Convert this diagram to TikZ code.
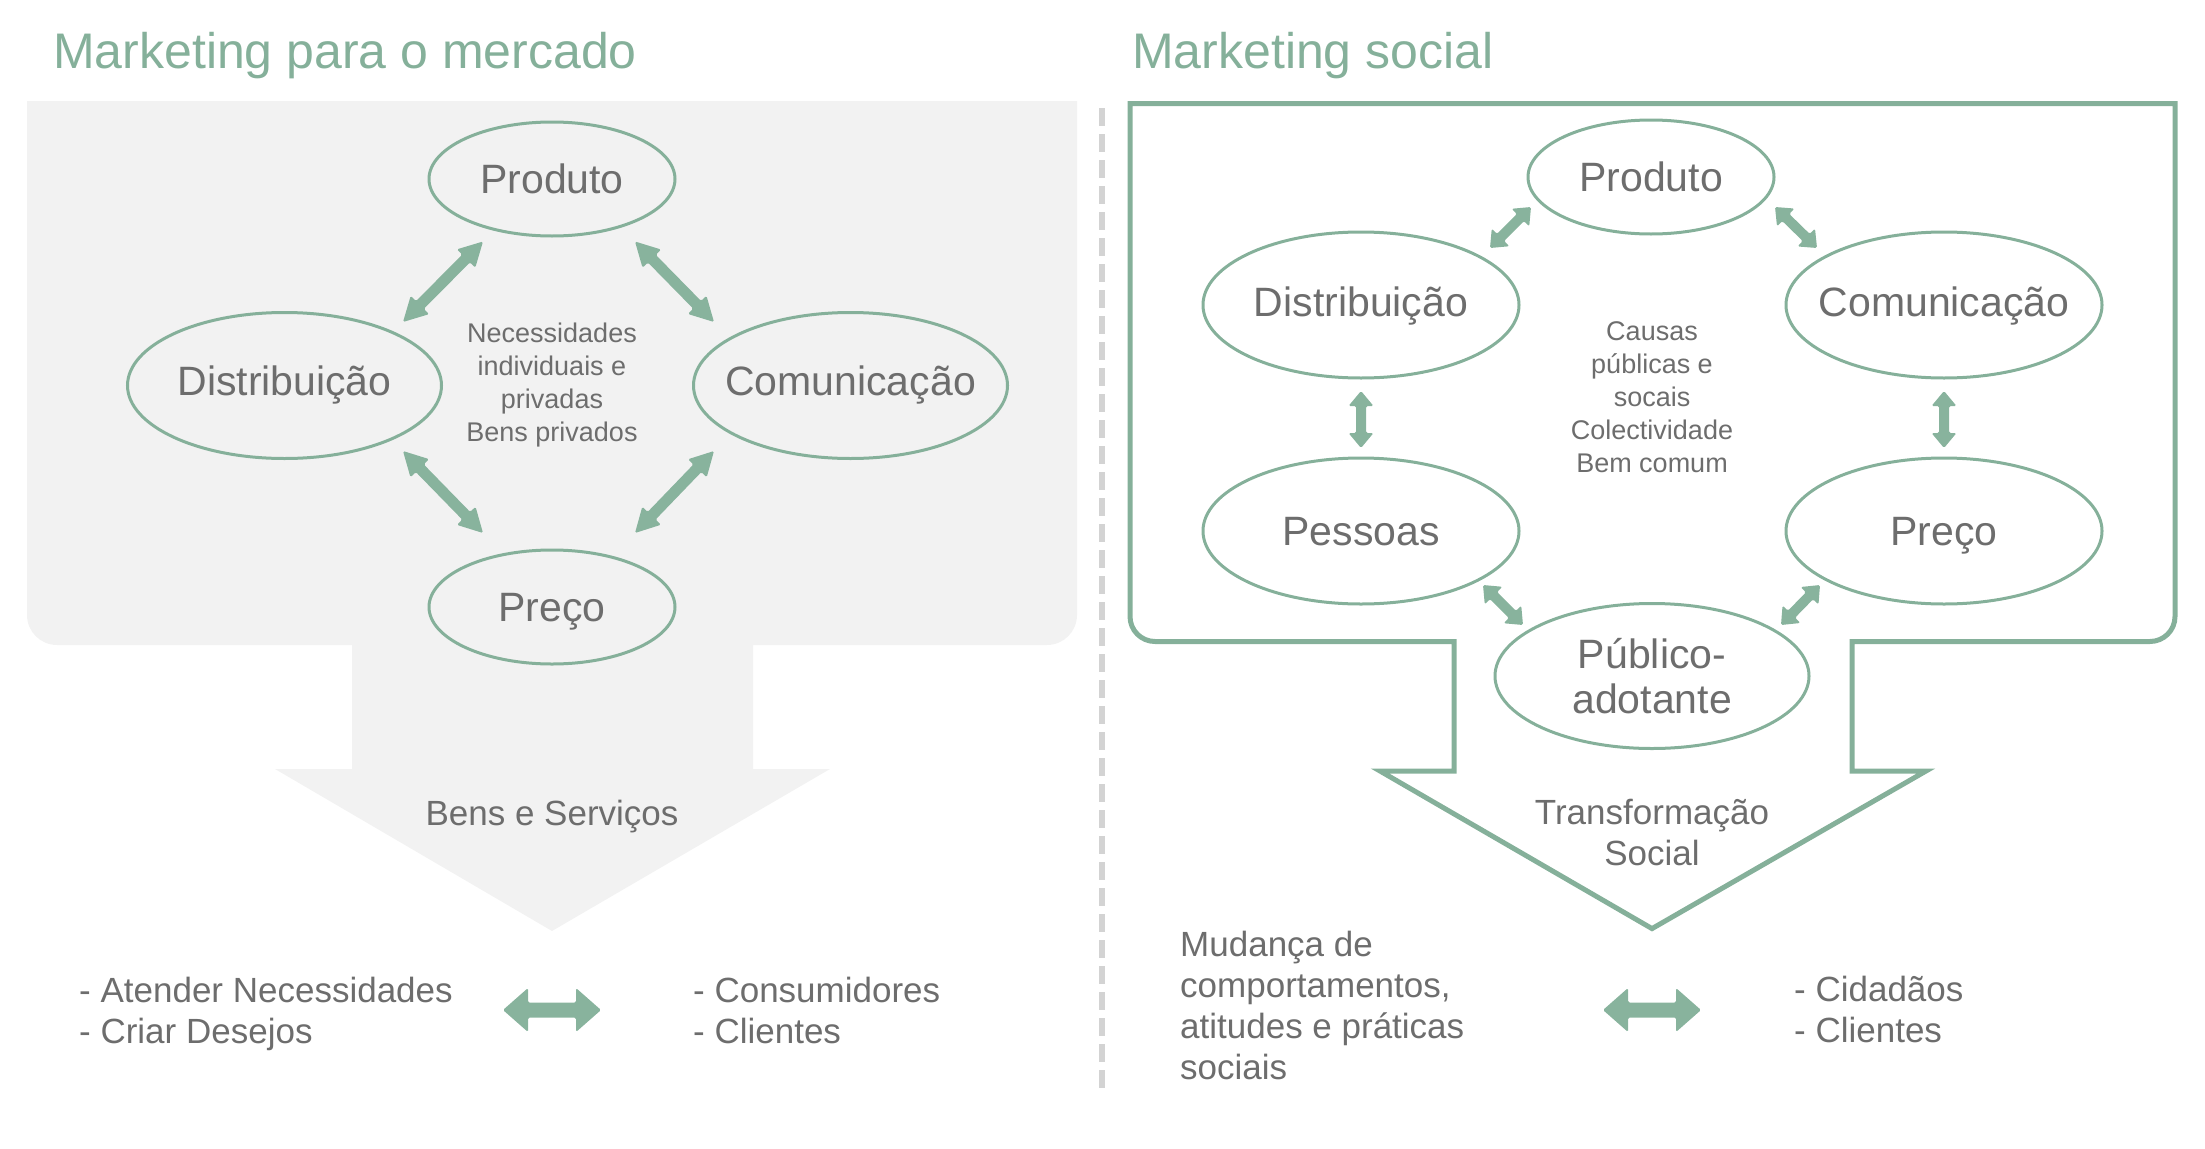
\documentclass[tikz,border=0pt]{standalone}
\usepackage{fontspec}
\setmainfont{Liberation Sans}
\usetikzlibrary{shapes.geometric,calc}
\definecolor{tgreen}{HTML}{85B09A}
\definecolor{afill}{HTML}{88B39D}
\definecolor{pgrey}{HTML}{F2F2F2}
\definecolor{tgrey}{HTML}{6D6D6D}
\definecolor{dgrey}{HTML}{D3D3D3}
\newcommand\fatarrow[5]{%
  \fill[afill, rounded corners=1.5pt] let \p1=(#1), \p2=(#2), \n1={atan2(\y2-\y1,\x2-\x1)} in
    (\p1) -- ($(\p1)+(\n1:#5)+(\n1+90:#4)$) -- ($(\p1)+(\n1:#5)+(\n1+90:#3)$)
    -- ($(\p2)+(\n1:-#5)+(\n1+90:#3)$) -- ($(\p2)+(\n1:-#5)+(\n1+90:#4)$)
    -- (\p2) -- ($(\p2)+(\n1:-#5)+(\n1-90:#4)$) -- ($(\p2)+(\n1:-#5)+(\n1-90:#3)$)
    -- ($(\p1)+(\n1:#5)+(\n1-90:#3)$) -- ($(\p1)+(\n1:#5)+(\n1-90:#4)$) -- cycle;}
\tikzset{
  ell/.style={ellipse, draw=tgreen, line width=3pt, inner xsep=-45pt, inner ysep=0pt, text=tgrey,
    font=\fontsize{41}{49}\selectfont, text height=29.5pt, text depth=0pt},
  ellup/.style={text depth=#1},
  title/.style={anchor=base west, inner sep=0pt, text=tgreen, font=\fontsize{50}{60}\selectfont},
  midtxt/.style={align=center, inner sep=0pt, text=tgrey, font=\fontsize{27}{33}\selectfont},
  bigtxt/.style={inner sep=0pt, text=tgrey, font=\fontsize{35}{41}\selectfont},
}
\begin{document}
\begin{tikzpicture}[x=1pt,y=-1pt]
\useasboundingbox (0,0) rectangle (2205,1148);
% titles
\node[title] (t1) at (53,69) {Marketing para o mercado};
\node[title] (t2) at (1132,69) {Marketing social};
% left panel
\fill[pgrey] (27,101) -- (1077,101) -- (1077,615) .. controls (1077,631.6) and (1063.6,645) .. (1047,645)
  -- (753,645) -- (753,769) -- (830,769) -- (552,931) -- (275,769) -- (352,769) -- (352,645)
  -- (57,645) .. controls (40.4,645) and (27,631.6) .. (27,615) -- cycle;
% divider
\draw[dgrey, line width=5.5pt, dash pattern=on 18pt off 8pt] (1102,108) -- (1102,1088);
% right frame
\draw[tgreen, line width=5pt] (1130,103.5) -- (2175,103.5) -- (2175,616.5)
  .. controls (2175,630.3) and (2163.8,641.5) .. (2150,641.5) -- (1852,641.5) -- (1852,771)
  -- (1926,771) -- (1652,928.6) -- (1380,771) -- (1454,771) -- (1454,641.5) -- (1155,641.5)
  .. controls (1141.2,641.5) and (1130,630.3) .. (1130,616.5) -- cycle;
% left ellipses
\node[ell, minimum width=246pt, minimum height=114pt] (lprod) at (552,179) {Produto};
\node[ell, ellup=9pt, minimum width=314pt, minimum height=146pt] (ldist) at (284.5,385.5) {Distribuição};
\node[ell, ellup=9pt, minimum width=314pt, minimum height=146pt] (lcom) at (850.5,385.5) {Comunicação};
\node[ell, minimum width=246pt, minimum height=114pt] (lpre) at (552,607) {Preço};
\node[midtxt] (lmid) at (552,385.5) {Necessidades\\individuais e\\privadas\\Bens privados};
% right ellipses
\node[ell, minimum width=246pt, minimum height=114pt] (rprod) at (1651,177) {Produto};
\node[ell, ellup=6pt, minimum width=316pt, minimum height=146pt] (rdist) at (1361,305) {Distribuição};
\node[ell, ellup=6pt, minimum width=316pt, minimum height=146pt] (rcom) at (1944,305) {Comunicação};
\node[ell, minimum width=316pt, minimum height=146pt] (rpes) at (1361,531) {Pessoas};
\node[ell, minimum width=316pt, minimum height=146pt] (rpre) at (1944,531) {Preço};
\node[ellipse, draw=tgreen, line width=3pt, inner sep=0pt, text=tgrey, minimum width=314pt,
  minimum height=145pt] (rpub) at (1652,676) {};
\node[align=center, inner sep=0pt, text=tgrey, font=\fontsize{41}{44.6}\selectfont]
  (rpubt) at (1652,676) {Público-\\adotante};
\node[midtxt] (rmid) at (1652,397) {Causas\\públicas e\\socais\\Colectividade\\Bem comum};
% arrow end points
\coordinate (a1) at (483,241.5); \coordinate (a2) at (403,322);
\coordinate (b1) at (635,241.5); \coordinate (b2) at (714,322);
\coordinate (c1) at (403,451);   \coordinate (c2) at (483,533);
\coordinate (d1) at (714,451);   \coordinate (d2) at (635,533);
\coordinate (e1) at (1531,207);  \coordinate (e2) at (1490,248);
\coordinate (f1) at (1775,207);  \coordinate (f2) at (1817,248);
\coordinate (g1) at (1361,391);  \coordinate (g2) at (1361,448);
\coordinate (h1) at (1944,391);  \coordinate (h2) at (1944,448);
\coordinate (i1) at (1483,585);  \coordinate (i2) at (1523,625);
\coordinate (j1) at (1820,585);  \coordinate (j2) at (1781,625);
\coordinate (k1) at (503,1010);  \coordinate (k2) at (601,1010);
\coordinate (l1) at (1603,1010); \coordinate (l2) at (1701,1010);
\fatarrow{a1}{a2}{5.5pt}{13pt}{24pt}
\fatarrow{b1}{b2}{5.5pt}{13pt}{24pt}
\fatarrow{c1}{c2}{5.5pt}{13pt}{24pt}
\fatarrow{d1}{d2}{5.5pt}{13pt}{24pt}
\fatarrow{e1}{e2}{5pt}{12.5pt}{15pt}
\fatarrow{f1}{f2}{5pt}{12.5pt}{15pt}
\fatarrow{g1}{g2}{5pt}{12.5pt}{15pt}
\fatarrow{h1}{h2}{5pt}{12.5pt}{15pt}
\fatarrow{i1}{i2}{5pt}{12.5pt}{15pt}
\fatarrow{j1}{j2}{5pt}{12.5pt}{15pt}
\fatarrow{k1}{k2}{7.5pt}{22pt}{25pt}
\fatarrow{l1}{l2}{7.5pt}{22pt}{25pt}
% bottom texts
\node[bigtxt, anchor=base] (bens) at (552,825) {Bens e Serviços};
\node[bigtxt, align=center] (trans) at (1652,832.7) {Transformação\\Social};
\node[bigtxt, anchor=west, align=left] (aten) at (79,1013.7) {- Atender Necessidades\\- Criar Desejos};
\node[bigtxt, anchor=west, align=left] (cons) at (693,1010) {- Consumidores\\- Clientes};
\node[bigtxt, anchor=west, align=left] (mud) at (1180,1005) {Mudança de\\comportamentos,\\atitudes e práticas\\sociais};
\node[bigtxt, anchor=west, align=left] (cid) at (1794,1009.8) {- Cidadãos\\- Clientes};
\end{tikzpicture}
\end{document}
